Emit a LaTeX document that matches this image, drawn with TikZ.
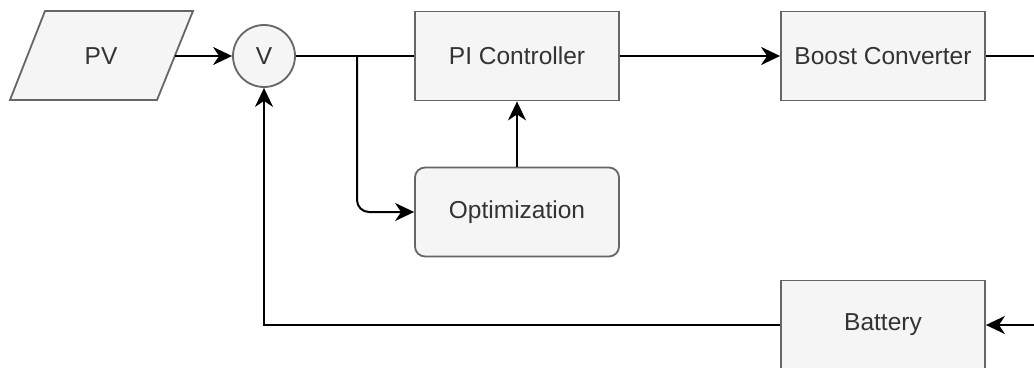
\documentclass[tikz,border=0pt]{standalone}
\usepackage{fontspec}
\setmainfont{Liberation Sans}
\usetikzlibrary{arrows.meta}
\definecolor{boxfill}{HTML}{F5F5F5}
\definecolor{boxline}{HTML}{666666}
\definecolor{boxtext}{HTML}{333333}
\begin{document}
\begin{tikzpicture}[x=1pt,y=-1pt,
  every node/.style={font=\fontsize{24.5}{28}\selectfont, text=boxtext},
  outline/.style={draw=boxline, fill=boxfill, line width=1.8pt},
  block/.style={outline, inner sep=0pt, minimum width=204pt, minimum height=89pt},
  roundblock/.style={block, rounded corners=10pt},
  junction/.style={outline, circle, inner sep=0pt, minimum size=62pt},
  wire/.style={line width=2pt, black},
  flow/.style={wire, -{Stealth[length=19pt, width=18pt, inset=6pt]}}
]
\useasboundingbox (0,0) rectangle (1034,367);
\clip (0,0) rectangle (1034,367);

% PV source: slanted input block
\draw[outline] (10,100) -- (45,11) -- (193,11) -- (157,100) -- cycle;
\node (pv) at (101,56) {PV};
\coordinate (pvout) at (175,56);

% blocks
\node[junction] (v) at (264,56) {V};
\node[block] (pi) at (517,56) {PI Controller};
\node[block] (boost) at (883,56) {Boost Converter};
\node[roundblock] (opt) at (517,212) {Optimization};
\node[block] (batt) at (883,325) {Battery};

% wiring points
\coordinate (split) at (357,56);
\coordinate (outR) at (1034,56);
\coordinate (inR) at (1034,325);

% connectors
\draw[flow] (pvout) -- (v.west);
\draw[wire] (v.east) -- (pi.west);
\draw[flow, rounded corners=12pt] (split) |- (opt.west);
\draw[flow] (opt.north) -- (pi.south);
\draw[flow] (pi.east) -- (boost.west);
\draw[wire] (boost.east) -- (outR);
\draw[flow] (inR) -- (batt.east);
\draw[flow] (batt.west) -| (v.south);
\end{tikzpicture}
\end{document}
